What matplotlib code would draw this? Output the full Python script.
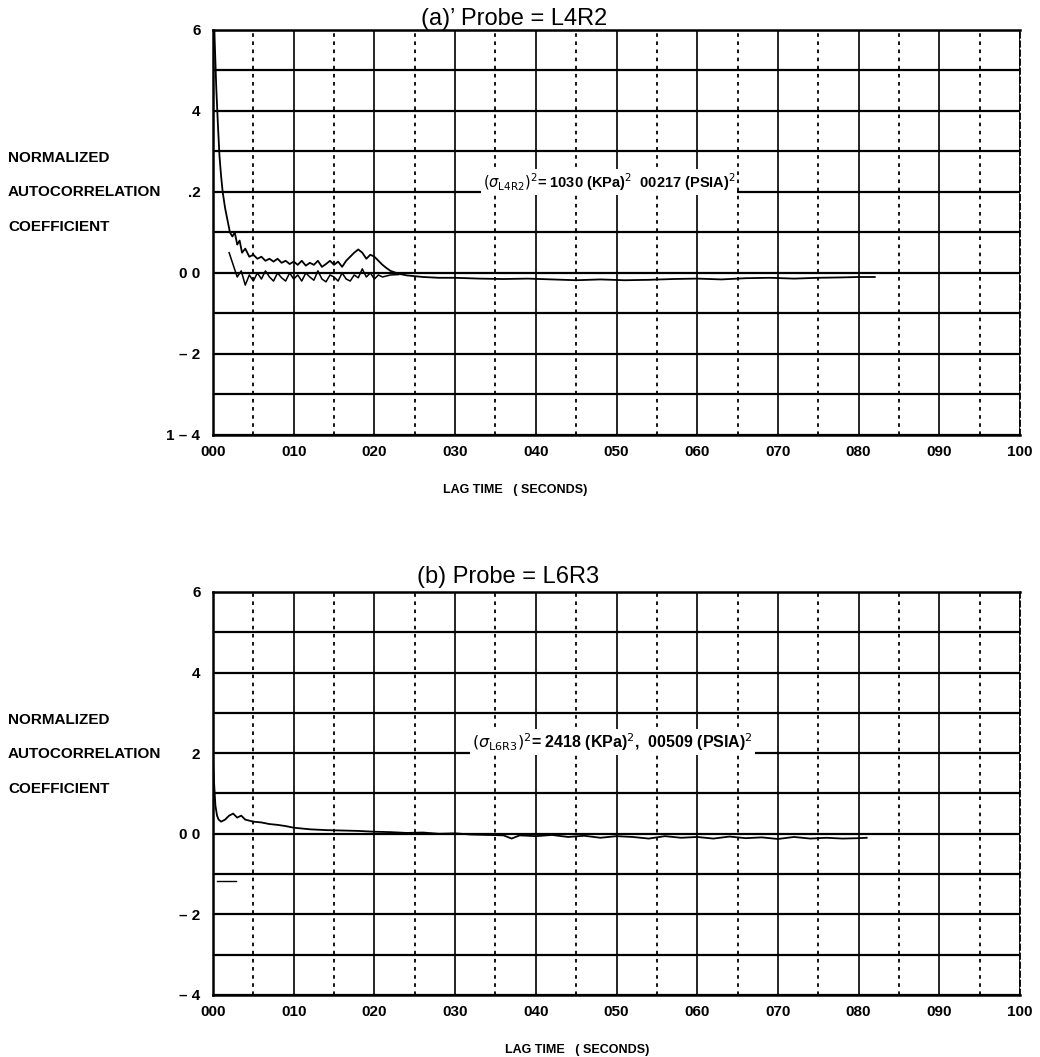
import matplotlib

matplotlib.use("Agg")
import matplotlib.pyplot as plt
import numpy as np

plt.rcParams["font.family"] = ["Liberation Sans", "DejaVu Sans"]

# ---- data ---------------------------------------------------------------
# panel (a) probe L4R2: upper and lower edge of the noisy trace
lag_a_upper = [0.0, 0.2, 0.4, 0.6, 0.8, 1.0, 1.2, 1.5, 1.8, 2.1, 2.4, 2.7, 3.0, 3.3, 3.6,
               4.0, 4.5, 5.0, 5.5, 6.0, 6.5, 7.0, 7.5, 8.0, 8.5, 9.0, 9.5, 10.0, 10.5,
               11.0, 11.5, 12.0, 12.5, 13.0, 13.5, 14.0, 14.5, 15.0, 15.5, 16.0, 16.5,
               17.0, 17.5, 18.0, 18.5, 19.0, 19.5, 20.0, 20.5, 21.0, 21.5, 22.0, 23.0,
               24.0, 26.0, 28.0, 30.0, 33.0, 36.0, 39.0, 42.0, 45.0, 48.0, 51.0, 54.0,
               57.0, 60.0, 63.0, 66.0, 69.0, 72.0, 75.0, 78.0, 80.0, 82.0]
val_a_upper = [0.75, 0.58, 0.46, 0.37, 0.29, 0.24, 0.2, 0.16, 0.13, 0.1, 0.09, 0.1, 0.07,
               0.08, 0.05, 0.06, 0.04, 0.045, 0.035, 0.04, 0.03, 0.035, 0.028, 0.035,
               0.025, 0.03, 0.022, 0.028, 0.02, 0.03, 0.018, 0.025, 0.02, 0.03, 0.015,
               0.022, 0.03, 0.02, 0.028, 0.015, 0.03, 0.04, 0.05, 0.058, 0.05, 0.035,
               0.045, 0.04, 0.03, 0.02, 0.012, 0.005, -0.002, -0.006, -0.01, -0.012,
               -0.012, -0.014, -0.015, -0.014, -0.016, -0.018, -0.016, -0.018, -0.017,
               -0.015, -0.014, -0.016, -0.013, -0.012, -0.014, -0.012, -0.011, -0.01,
               -0.01]
lag_a_lower = [2.0, 2.5, 3.0, 3.5, 4.0, 4.5, 5.0, 5.5, 6.0, 6.5, 7.0, 7.5, 8.0, 8.5,
               9.0, 9.5, 10.0, 10.5, 11.0, 11.5, 12.0, 12.5, 13.0, 13.5, 14.0, 14.5,
               15.0, 15.5, 16.0, 16.5, 17.0, 17.5, 18.0, 18.5, 19.0, 19.5, 20.0, 20.5,
               21.0, 22.0, 23.0]
val_a_lower = [0.05, 0.02, -0.01, 0.005, -0.03, -0.005, -0.02, 0.0, -0.015, 0.005,
               -0.01, -0.02, 0.0, -0.012, -0.02, 0.0, -0.015, -0.005, -0.02, 0.0, -0.01,
               -0.018, 0.005, -0.015, -0.022, -0.005, -0.01, -0.02, 0.0, -0.015, -0.02,
               -0.005, -0.012, 0.01, -0.01, 0.0, -0.015, -0.005, -0.01, -0.005, -0.004]

# panel (b) probe L6R3
lag_b = [0.0, 0.15, 0.3, 0.5, 0.7, 1.0, 1.5, 2.0, 2.5, 3.0, 3.5, 4.0, 5.0, 6.0, 7.0, 8.0,
         9.0, 10.0, 11.0, 12.0, 14.0, 16.0, 18.0, 20.0, 22.0, 24.0, 26.0, 28.0, 30.0,
         32.0, 34.0, 36.0, 37.0, 38.0, 40.0, 42.0, 44.0, 46.0, 48.0, 50.0, 52.0, 54.0,
         56.0, 58.0, 60.0, 62.0, 64.0, 66.0, 68.0, 70.0, 72.0, 74.0, 76.0, 78.0, 80.0,
         81.0]
val_b = [0.18, 0.12, 0.07, 0.045, 0.035, 0.03, 0.035, 0.045, 0.05, 0.04, 0.045, 0.035,
         0.03, 0.028, 0.024, 0.022, 0.019, 0.015, 0.013, 0.011, 0.009, 0.008, 0.007,
         0.005, 0.004, 0.002, 0.003, 0.0, 0.001, -0.002, -0.003, -0.004, -0.012, -0.004,
         -0.006, -0.003, -0.008, -0.005, -0.01, -0.006, -0.008, -0.012, -0.006, -0.01,
         -0.008, -0.012, -0.007, -0.011, -0.009, -0.013, -0.008, -0.012, -0.01, -0.012,
         -0.011, -0.01]
stray_lag_b = [0.5, 2.8]
stray_val_b = [-0.117, -0.117]

x_ticks = [0, 10, 20, 30, 40, 50, 60, 70, 80, 90, 100]
x_tick_labels = ["000", "010", "020", "030", "040", "050", "060", "070", "080", "090", "100"]
y_ticks = [-0.4, -0.2, 0.0, 0.2, 0.4, 0.6]
y_labels_a = ["1 \u2013 4", "\u2013 2", "0 0", ".2", "4", "6"]
y_labels_b = ["\u2013 4", "\u2013 2", "0 0", "2", "4", "6"]

fig = plt.figure(figsize=(10.4, 10.57), dpi=100)
ax_a = fig.add_axes([0.2048, 0.5885, 0.776, 0.3832])
ax_b = fig.add_axes([0.2048, 0.0587, 0.776, 0.3813])


def _chart_paper(ax, y_labels):
    ax.set_xlim(0, 100)
    ax.set_ylim(-0.4, 0.6)
    ax.set_xticks(x_ticks)
    ax.set_xticklabels(x_tick_labels)
    ax.set_xticks(np.arange(5, 100, 10), minor=True)
    ax.set_yticks(y_ticks)
    ax.set_yticklabels(y_labels)
    ax.set_yticks(np.arange(-0.3, 0.6, 0.2), minor=True)
    ax.grid(which="major", axis="x", color="black", lw=1.2)
    ax.grid(which="minor", axis="x", color="black", lw=1.3, ls=(0, (2, 2.5)))
    ax.grid(which="both", axis="y", color="black", lw=1.6)
    ax.tick_params(which="both", length=0)
    ax.tick_params(axis="y", pad=9, labelsize=11)
    ax.tick_params(axis="x", pad=7, labelsize=11)
    for label in [*ax.get_xticklabels(), *ax.get_yticklabels()]:
        label.set_fontweight("bold")
    for side in ("top", "bottom", "left"):
        ax.spines[side].set_linewidth(1.8)
    ax.spines["right"].set_linewidth(1.3)
    ax.spines["right"].set_linestyle((0, (3, 2)))
    ax.set_axisbelow(True)


_chart_paper(ax_a, y_labels_a)
_chart_paper(ax_b, y_labels_b)

ax_a.plot(lag_a_upper, val_a_upper, color="black", lw=1.3)
ax_a.plot(lag_a_lower, val_a_lower, color="black", lw=1.1)
ax_b.plot(lag_b, val_b, color="black", lw=1.3)
ax_b.plot(stray_lag_b, stray_val_b, color="black", lw=1.0)

fig.text(0.494, 0.982, "(a)\u2019 Probe = L4R2", ha="center", va="center", fontsize=17)
fig.text(0.489, 0.454, "(b) Probe = L6R3", ha="center", va="center", fontsize=17)

box = dict(facecolor="white", edgecolor="none", pad=1.5)
ax_a.text(33.4, 0.225,
          r"$(\sigma_{\rm L4R2})^2$= 1030 (KPa)$^2$  00217 (PSIA)$^2$",
          fontsize=10.5, fontweight="bold", va="center", ha="left", bbox=box)
ax_b.text(32.1, 0.228,
          r"$(\sigma_{\rm L6R3})^2$= 2418 (KPa)$^2$,  00509 (PSIA)$^2$",
          fontsize=11.5, fontweight="bold", va="center", ha="left", bbox=box)

for top_px in (158, 720):
    for k, word in enumerate(["NORMALIZED", "AUTOCORRELATION", "COEFFICIENT"]):
        fig.text(8 / 1040, 1 - (top_px + 34.5 * k) / 1057, word,
                 fontsize=11, fontweight="bold", va="center", ha="left")

fig.text(443 / 1040, 1 - 490 / 1057, "LAG TIME   ( SECONDS)", fontsize=9,
         fontweight="bold", ha="left", va="center")
fig.text(505 / 1040, 1 - 1050 / 1057, "LAG TIME   ( SECONDS)", fontsize=9,
         fontweight="bold", ha="left", va="center")

fig.savefig("out.png", dpi=100)
